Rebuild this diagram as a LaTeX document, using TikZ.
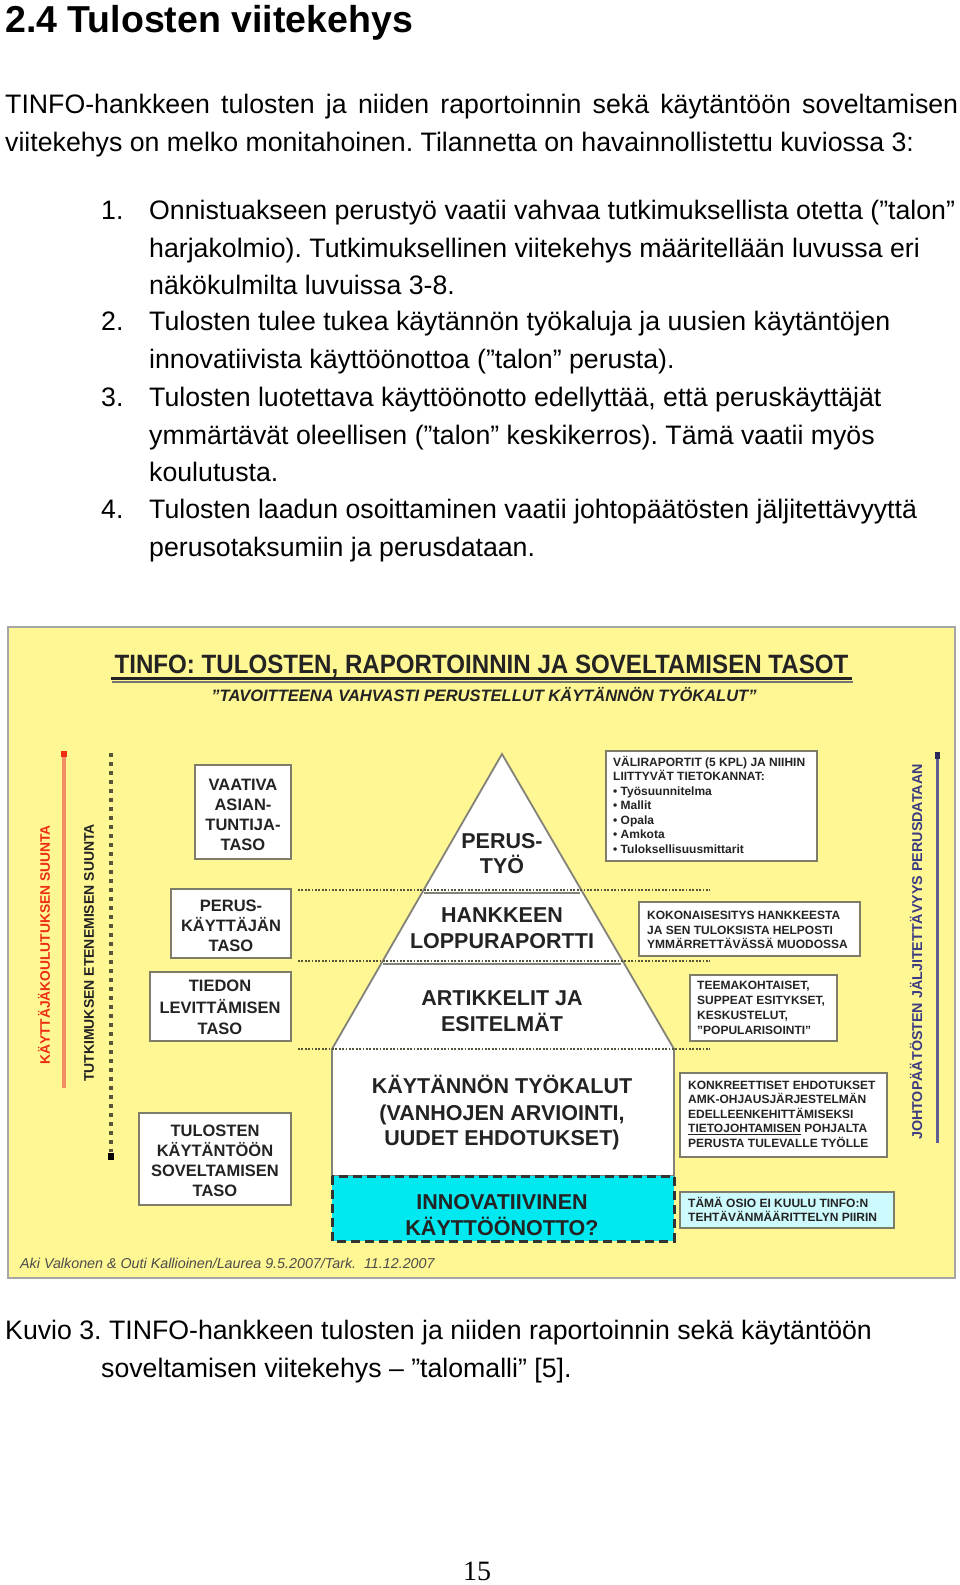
\documentclass[tikz,border=0pt]{standalone}
\usepackage{fontspec}
\usepackage{graphicx}
\setmainfont{Liberation Sans}
\newfontfamily\narrowfont[FakeStretch=0.91]{Liberation Sans}
\newfontfamily\pageserif{Liberation Serif}
\frenchspacing
\definecolor{bgyellow}{RGB}{255,246,148}
\definecolor{boxborder}{RGB}{125,125,105}
\definecolor{txtdark}{RGB}{35,35,35}
\definecolor{redline}{RGB}{242,140,100}
\definecolor{redtext}{RGB}{238,45,20}
\definecolor{navytext}{RGB}{60,60,130}
\definecolor{navyline}{RGB}{95,95,150}
\definecolor{dotcol}{RGB}{85,85,60}
\definecolor{cyanfill}{RGB}{0,232,240}
\definecolor{lightcyan}{RGB}{205,250,252}
\definecolor{pyrline}{RGB}{130,130,120}
\tikzset{
  tx/.style={inner sep=0pt, anchor=base west, text=black},
  body/.style={tx, font=\fontsize{26.7}{37.4}\selectfont},
  lbox/.style={draw=boxborder, line width=2.5pt, fill=white},
  ltxt/.style={inner sep=0pt, anchor=base, text=txtdark, font=\bfseries\fontsize{16.5}{20}\selectfont},
  ptxt/.style={inner sep=0pt, anchor=base, text=txtdark, font=\bfseries\fontsize{21.5}{26}\selectfont},
  rtxt/.style={inner sep=0pt, anchor=base west, text=txtdark, font=\bfseries\fontsize{12}{14.5}\selectfont},
  divider/.style={draw=dotcol, line width=2.5pt, dash pattern=on 1.8pt off 1.6pt},
  vlabel/.style={inner sep=0pt, rotate=90, anchor=center},
}
\begin{document}
\begin{tikzpicture}[x=1pt,y=-1pt]
\useasboundingbox (0,0) rectangle (960,1585);
% ---------- text above ----------
\node[tx, font=\bfseries\fontsize{37.5}{40}\selectfont] (head) at (5,32) {2.4 Tulosten viitekehys};
\node[body] (p1) at (5,113.5) {\makebox[953pt][s]{TINFO-hankkeen tulosten ja niiden raportoinnin sekä käytäntöön soveltamisen}};
\node[body] (p2) at (5,151) {viitekehys on melko monitahoinen. Tilannetta on havainnollistettu kuviossa 3:};
\node[body] (n1) at (101,219.7) {1.};
\node[body] (l1a) at (149,219.7) {Onnistuakseen perustyö vaatii vahvaa tutkimuksellista otetta (”talon”};
\node[body] (l1b) at (149,257.1) {harjakolmio). Tutkimuksellinen viitekehys määritellään luvussa eri};
\node[body] (l1c) at (149,294.5) {näkökulmilta luvuissa 3-8.};
\node[body] (n2) at (101,330.8) {2.};
\node[body] (l2a) at (149,330.8) {Tulosten tulee tukea käytännön työkaluja ja uusien käytäntöjen};
\node[body] (l2b) at (149,368.2) {innovatiivista käyttöönottoa (”talon” perusta).};
\node[body] (n3) at (101,406.6) {3.};
\node[body] (l3a) at (149,406.6) {Tulosten luotettava käyttöönotto edellyttää, että peruskäyttäjät};
\node[body] (l3b) at (149,444) {ymmärtävät oleellisen (”talon” keskikerros). Tämä vaatii myös};
\node[body] (l3c) at (149,481.4) {koulutusta.};
\node[body] (n4) at (101,518.8) {4.};
\node[body] (l4a) at (149,518.8) {Tulosten laadun osoittaminen vaatii johtopäätösten jäljitettävyyttä};
\node[body] (l4b) at (149,556.2) {perusotaksumiin ja perusdataan.};
% ---------- diagram background ----------
\draw[fill=bgyellow, draw=black!35, line width=2pt] (8,627) rectangle (955,1278);
% title
\node[inner sep=0pt, anchor=base, text=txtdark, font=\narrowfont\bfseries\fontsize{26.5}{30}\selectfont] (title) at (481.5,673.5) {TINFO: TULOSTEN, RAPORTOINNIN JA SOVELTAMISEN TASOT};
\draw[black!55, line width=2pt] (112,681.5) -- (853,681.5);
\draw[txtdark, line width=3pt] (111,678.5) -- (852,678.5);
\node[inner sep=0pt, anchor=base, text=txtdark, font=\bfseries\itshape\fontsize{16.5}{20}\selectfont] (sub) at (484,701.5) {”TAVOITTEENA VAHVASTI PERUSTELLUT KÄYTÄNNÖN TYÖKALUT”};
% left verticals
\draw[redline, line width=4pt] (64,756) -- (64,1088);
\fill[redtext] (61,751) rectangle (67,757);
\node[vlabel, text=redtext, font=\bfseries\fontsize{13.8}{15}\selectfont] (redlbl) at (44,945) {KÄYTTÄJÄKOULUTUKSEN SUUNTA};
\node[vlabel, text=txtdark, font=\bfseries\fontsize{14}{16}\selectfont] (blklbl) at (89,953) {TUTKIMUKSEN ETENEMISEN SUUNTA};
\draw[dotcol, line width=4pt, dash pattern=on 4pt off 5pt] (111,753) -- (111,1152);
\fill[black] (108,1153) rectangle (114,1160);
% right vertical
\draw[navyline, line width=3pt] (937,758) -- (937,1143);
\fill[navytext!70!black] (934.5,752) rectangle (939.5,759);
\node[vlabel, text=navytext, font=\bfseries\fontsize{14.3}{16}\selectfont] (navylbl) at (916,952) {JOHTOPÄÄTÖSTEN JÄLJITETTÄVYYS PERUSDATAAN};
% pyramid
\draw[fill=white, draw=pyrline, line width=1.8pt] (502,754) -- (674,1049) -- (674,1176) -- (332,1176) -- (332,1049) -- cycle;
\draw[fill=cyanfill, draw=black!80, line width=3pt, dash pattern=on 9pt off 5pt] (332,1176) rectangle (674,1241);
\draw[pyrline, line width=1.5pt] (424,893) -- (580,893);
\draw[pyrline, line width=1.5pt] (383,964) -- (621,964);
\draw[divider] (298,890) -- (710,890);
\draw[divider] (298,961) -- (710,961);
\draw[divider] (298,1049) -- (710,1049);
\node[ptxt] (t1a) at (502,848.5) {PERUS-};
\node[ptxt] (t1b) at (502,873.5) {TYÖ};
\node[ptxt] (t2a) at (502,922) {HANKKEEN};
\node[ptxt] (t2b) at (502,948) {LOPPURAPORTTI};
\node[ptxt] (t3a) at (502,1005) {ARTIKKELIT JA};
\node[ptxt] (t3b) at (502,1031) {ESITELMÄT};
\node[ptxt] (t4a) at (502,1093.5) {KÄYTÄNNÖN TYÖKALUT};
\node[ptxt] (t4b) at (502,1120) {(VANHOJEN ARVIOINTI,};
\node[ptxt] (t4c) at (502,1145.5) {UUDET EHDOTUKSET)};
\node[ptxt] (t5a) at (502,1209.5) {INNOVATIIVINEN};
\node[ptxt] (t5b) at (502,1235) {KÄYTTÖÖNOTTO?};
% left boxes
\draw[lbox] (195,765) rectangle (291,859);
\node[ltxt] (b1a) at (243,790) {VAATIVA};
\node[ltxt] (b1b) at (243,810) {ASIAN-};
\node[ltxt] (b1c) at (243,830) {TUNTIJA-};
\node[ltxt] (b1d) at (243,850) {TASO};
\draw[lbox] (171,889) rectangle (291,958);
\node[ltxt] (b2a) at (231,911.5) {PERUS-};
\node[ltxt] (b2b) at (231,931) {KÄYTTÄJÄN};
\node[ltxt] (b2c) at (231,951) {TASO};
\draw[lbox] (150,972) rectangle (291,1041);
\node[ltxt] (b3a) at (220,991) {TIEDON};
\node[ltxt] (b3b) at (220,1013.5) {LEVITTÄMISEN};
\node[ltxt] (b3c) at (220,1034) {TASO};
\draw[lbox] (139,1113) rectangle (291,1205);
\node[ltxt] (b4a) at (215,1136) {TULOSTEN};
\node[ltxt] (b4b) at (215,1156) {KÄYTÄNTÖÖN};
\node[ltxt] (b4c) at (215,1176) {SOVELTAMISEN};
\node[ltxt] (b4d) at (215,1196) {TASO};
% right boxes
\draw[lbox] (606,751) rectangle (817,861);
\node[rtxt] (r1a) at (613,766.3) {VÄLIRAPORTIT (5 KPL) JA NIIHIN};
\node[rtxt] (r1b) at (613,780.8) {LIITTYVÄT TIETOKANNAT:};
\node[rtxt] (r1c) at (613,795.3) {• Työsuunnitelma};
\node[rtxt] (r1d) at (613,809.8) {• Mallit};
\node[rtxt] (r1e) at (613,824.3) {• Opala};
\node[rtxt] (r1f) at (613,838.8) {• Amkota};
\node[rtxt] (r1g) at (613,853.3) {• Tuloksellisuusmittarit};
\draw[lbox] (639,902) rectangle (860,956);
\node[rtxt] (r2a) at (647,919.8) {KOKONAISESITYS HANKKEESTA};
\node[rtxt] (r2b) at (647,934.3) {JA SEN TULOKSISTA HELPOSTI};
\node[rtxt] (r2c) at (647,948.8) {YMMÄRRETTÄVÄSSÄ MUODOSSA};
\draw[lbox] (690,975) rectangle (837,1041);
\node[rtxt] (r3a) at (697,989.3) {TEEMAKOHTAISET,};
\node[rtxt] (r3b) at (697,1004.3) {SUPPEAT ESITYKSET,};
\node[rtxt] (r3c) at (697,1019.3) {KESKUSTELUT,};
\node[rtxt] (r3d) at (697,1034.3) {”POPULARISOINTI”};
\draw[lbox] (680,1073) rectangle (887,1157);
\node[rtxt] (r4a) at (688,1089.3) {KONKREETTISET EHDOTUKSET};
\node[rtxt] (r4b) at (688,1103.8) {AMK-OHJAUSJÄRJESTELMÄN};
\node[rtxt] (r4c) at (688,1118.3) {EDELLEENKEHITTÄMISEKSI};
\node[rtxt] (r4d) at (688,1132.8) {\underline{TIETOJOHTAMISEN} POHJALTA};
\node[rtxt] (r4e) at (688,1147.3) {PERUSTA TULEVALLE TYÖLLE};
\draw[lbox, fill=lightcyan] (680,1192) rectangle (894,1228);
\node[rtxt] (r5a) at (688,1207.3) {TÄMÄ OSIO EI KUULU TINFO:N};
\node[rtxt] (r5b) at (688,1221.3) {TEHTÄVÄNMÄÄRITTELYN PIIRIN};
% credit
\node[tx, text=black!70, font=\itshape\fontsize{14.3}{16}\selectfont] (credit) at (20,1268) {Aki Valkonen \& Outi Kallioinen/Laurea 9.5.2007/Tark.\ \ 11.12.2007};
% ---------- caption ----------
\node[body] (c1) at (5,1339.3) {Kuvio 3. TINFO-hankkeen tulosten ja niiden raportoinnin sekä käytäntöön};
\node[body] (c2) at (101,1377.7) {soveltamisen viitekehys – ”talomalli” [5].};
\node[inner sep=0pt, anchor=base, font=\pageserif\fontsize{28}{30}\selectfont] (pg) at (477,1580.5) {15};
\end{tikzpicture}
\end{document}
